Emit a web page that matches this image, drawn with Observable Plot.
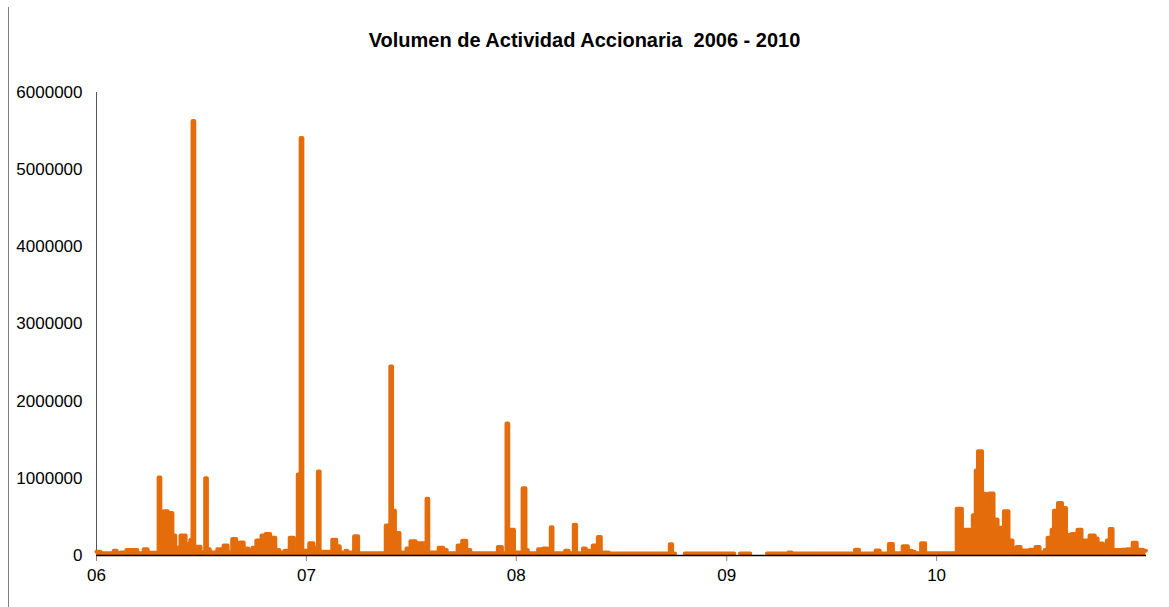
<!DOCTYPE html>
<html>
<head>
<meta charset="utf-8">
<script src="https://cdn.jsdelivr.net/npm/d3@7"></script>
<script src="https://cdn.jsdelivr.net/npm/@observablehq/plot@0.6"></script>
<style>
  body { margin: 0; background: #fff; font-family: "Liberation Sans", Arial, sans-serif; }
  #wrap { position: relative; width: 1169px; height: 607px; overflow: hidden; }
  #frame { position: absolute; left: 8px; top: 7px; width: 1px; height: 600px; background: #7f7f7f; }
  #title { height: 65px; box-sizing: border-box; padding-top: 28px; text-align: center; font-weight: bold; font-size: 20px; line-height: 24px; color: #000; white-space: pre; }
</style>
</head>
<body>
<div id="wrap">
  <div id="frame"></div>
  <div id="title"></div>
  <div id="chart"></div>
</div>
<script>
const titleText = "Volumen de Actividad Accionaria  2006 - 2010";
const yTicks = [0, 1000000, 2000000, 3000000, 4000000, 5000000, 6000000];
const xTickYears = ["2006-01-01", "2007-01-01", "2008-01-01", "2009-01-01", "2010-01-01"];

// Daily volume (step changes); null = no data
const dates = [
  "2006-01-01","2006-01-08","2006-01-31","2006-02-05","2006-02-12","2006-02-22","2006-03-13","2006-03-24","2006-03-31",
  "2006-04-19","2006-04-22","2006-04-28","2006-05-05","2006-05-13","2006-05-18","2006-05-27","2006-06-05","2006-06-08",
  "2006-06-13","2006-06-17","2006-06-20","2006-06-24","2006-07-01","2006-07-09","2006-07-12","2006-07-17","2006-07-30",
  "2006-08-05","2006-08-10","2006-08-17","2006-08-25","2006-09-01","2006-09-07","2006-09-14","2006-09-22","2006-09-29",
  "2006-10-06","2006-10-15","2006-10-22","2006-10-30","2006-11-08","2006-11-15","2006-11-24","2006-12-01","2006-12-03",
  "2006-12-10","2006-12-17","2006-12-22","2006-12-25",
  "2007-01-06","2007-01-13","2007-01-21","2007-01-24","2007-02-15","2007-02-22","2007-02-28","2007-03-10","2007-03-13",
  "2007-03-25","2007-04-01","2007-05-19","2007-05-27","2007-05-30","2007-06-04","2007-06-12","2007-06-24","2007-07-01",
  "2007-07-10","2007-07-29","2007-08-01","2007-08-19","2007-08-27","2007-09-02","2007-09-21","2007-09-29","2007-10-06",
  "2007-10-13","2007-11-30","2007-12-07","2007-12-15","2007-12-18","2007-12-21","2007-12-28",
  "2008-01-12","2008-01-17","2008-01-21","2008-02-08","2008-02-17","2008-02-24","2008-03-01","2008-03-04","2008-03-26",
  "2008-04-01","2008-04-10","2008-04-14","2008-04-26","2008-05-01","2008-05-08","2008-05-13","2008-05-22","2008-05-27",
  "2008-06-10","2008-09-24","2008-09-28","2008-10-03","2008-10-04","2008-10-20",
  "2009-01-14","2009-01-15","2009-01-24","2009-02-11","2009-02-12","2009-03-12","2009-04-18","2009-04-24","2009-08-12",
  "2009-08-19","2009-09-17","2009-09-24","2009-10-10","2009-10-17","2009-11-03","2009-11-12","2009-11-19","2009-11-24",
  "2009-12-05","2009-12-12",
  "2010-02-05","2010-02-14","2010-02-19","2010-02-28","2010-03-05","2010-03-10","2010-03-14","2010-03-21","2010-03-27",
  "2010-04-02","2010-04-10","2010-04-17","2010-04-24","2010-04-28","2010-05-06","2010-05-13","2010-05-20","2010-05-27",
  "2010-06-12","2010-06-22","2010-06-29","2010-07-08","2010-07-13","2010-07-20","2010-07-24","2010-07-31","2010-08-07",
  "2010-08-14","2010-08-19","2010-08-24","2010-09-03","2010-09-10","2010-09-24","2010-10-03","2010-10-08","2010-10-17",
  "2010-10-24","2010-10-29","2010-11-03","2010-11-19","2010-11-28","2010-12-08","2010-12-15","2010-12-26","2010-12-31"
];
const volumes = [
  50000,30000,60000,30000,40000,70000,30000,80000,35000,
  1010000,40000,575000,550000,260000,100000,260000,80000,150000,
  200000,5630000,40000,115000,40000,1000000,80000,40000,80000,
  30000,130000,40000,215000,100000,170000,90000,40000,100000,
  195000,260000,280000,230000,70000,40000,60000,40000,230000,
  40000,1050000,5410000,60000,
  160000,100000,1090000,50000,205000,120000,40000,60000,40000,
  250000,30000,390000,2450000,580000,290000,40000,90000,185000,
  160000,735000,40000,100000,70000,30000,130000,190000,70000,
  30000,110000,30000,1710000,30000,335000,40000,
  870000,70000,30000,80000,90000,30000,365000,30000,60000,
  30000,400000,30000,90000,60000,30000,130000,240000,40000,
  25000,145000,25000,25000,null,25000,
  25000,null,25000,25000,null,25000,40000,25000,75000,
  25000,65000,25000,150000,30000,120000,60000,50000,30000,
  160000,30000,
  605000,245000,335000,130000,520000,1100000,1350000,800000,375000,
  805000,465000,360000,190000,575000,195000,55000,110000,65000,
  75000,110000,40000,70000,230000,335000,580000,680000,615000,
  110000,270000,280000,335000,195000,260000,220000,155000,70000,
  195000,345000,70000,75000,80000,165000,75000,60000,60000
];

document.getElementById("title").textContent = titleText;

const data = dates.map((d, i) => ({date: new Date(d + "T00:00:00Z"), volume: volumes[i]}));
const x0 = new Date("2006-01-01T00:00:00Z");
const x1 = new Date("2011-01-01T00:00:00Z");
const orange = "#E46C0A";

const chart = Plot.plot({
  width: 1169,
  height: 542,
  marginTop: 27,
  marginBottom: 52,
  marginLeft: 96,
  marginRight: 23,
  style: {fontFamily: "'Liberation Sans', Arial, sans-serif", fontSize: "17px", color: "#000", background: "#fff"},
  x: {type: "utc", domain: [x0, x1]},
  y: {domain: [0, 6000000]},
  marks: [
    Plot.axisY({ticks: yTicks, tickSize: 0, tickPadding: 14, tickFormat: d3.format("d"), label: null, fontSize: 17}),
    Plot.axisX({ticks: xTickYears.map(d => new Date(d + "T00:00:00Z")), tickSize: 6, tickPadding: 7, stroke: "#888", tickFormat: d3.utcFormat("%y"), label: null, fontSize: 17, fill: "#000"}),
    Plot.ruleX([x0], {stroke: "#555", strokeWidth: 1}),
    Plot.areaY(data, {x: "date", y: "volume", curve: "step-after", fill: orange}),
    Plot.line(data, {x: "date", y: "volume", curve: "step-after", stroke: orange, strokeWidth: 4, strokeLinejoin: "round", strokeLinecap: "round"}),
    Plot.ruleY([0], {stroke: "#000", strokeWidth: 1.5})
  ]
});
document.getElementById("chart").appendChild(chart);
</script>
</body>
</html>
